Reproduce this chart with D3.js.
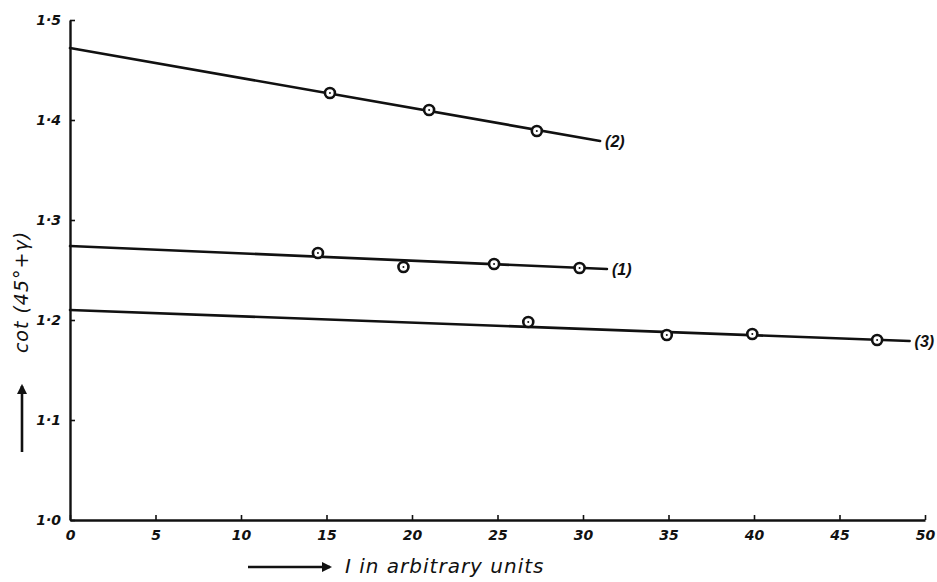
<!DOCTYPE html>
<html>
<head>
<meta charset="utf-8">
<script src="https://cdn.jsdelivr.net/npm/d3@7"></script>
<style>
  body { margin: 0; background: #fff; }
  svg { display: block; }
  text { fill: #111; }
</style>
</head>
<body>
<div id="chart"></div>
<script>
// axis ticks
const xTicks = [0, 5, 10, 15, 20, 25, 30, 35, 40, 45, 50];
const yTicks = [1.0, 1.1, 1.2, 1.3, 1.4, 1.5];

// curve (1)
const fit1X = [0, 31.4];
const fit1Y = [1.274, 1.251];
const pts1X = [14.5, 19.5, 24.8, 29.8];
const pts1Y = [1.267, 1.253, 1.256, 1.252];

// curve (2)
const fit2X = [0, 31.0];
const fit2Y = [1.472, 1.379];
const pts2X = [15.2, 21.0, 27.3];
const pts2Y = [1.427, 1.410, 1.389];

// curve (3)
const fit3X = [0, 49.1];
const fit3Y = [1.210, 1.179];
const pts3X = [26.8, 34.9, 39.9, 47.2];
const pts3Y = [1.198, 1.185, 1.186, 1.180];

const curveNames = ["(1)", "(2)", "(3)"];

document.addEventListener('DOMContentLoaded', function () {
    const width = 937;
    const height = 582;
    const marginLeft = 70;
    const marginRight = 12;
    const marginTop = 20;
    const marginBottom = 62;

    const x = d3.scaleLinear()
        .domain([0, 50])
        .range([marginLeft, width - marginRight]);
    const y = d3.scaleLinear()
        .domain([1.0, 1.5])
        .range([height - marginBottom, marginTop]);

    const svg = d3.create("svg")
        .attr("viewBox", [0, 0, width, height])
        .attr("width", width)
        .attr("height", height);

    const ink = "#111";
    const tickFont = "italic bold 14px 'DejaVu Sans', sans-serif";

    // x axis
    svg.append("g")
        .attr("transform", `translate(0,${y(1.0)})`)
        .call(d3.axisBottom(x).tickValues(xTicks).tickSizeInner(-5).tickSizeOuter(0).tickPadding(10).tickFormat(d3.format("d")))
        .call(g => g.select(".domain").attr("stroke", ink).attr("stroke-width", 2.6))
        .call(g => g.selectAll(".tick line").attr("stroke", ink).attr("stroke-width", 1.6))
        .call(g => g.selectAll(".tick text").style("font", tickFont).attr("fill", ink));

    // y axis
    svg.append("g")
        .attr("transform", `translate(${x(0)},0)`)
        .call(d3.axisLeft(y).tickValues(yTicks).tickSizeInner(-5).tickSizeOuter(0).tickPadding(9)
            .tickFormat(d => d3.format(".1f")(d).replace(".", "·")))
        .call(g => g.select(".domain").attr("stroke", ink).attr("stroke-width", 2.4))
        .call(g => g.selectAll(".tick line").attr("stroke", ink).attr("stroke-width", 1.6))
        .call(g => g.selectAll(".tick text").style("font", tickFont).attr("fill", ink));

    const curves = [
        { name: curveNames[0], fx: fit1X, fy: fit1Y, px: pts1X, py: pts1Y },
        { name: curveNames[1], fx: fit2X, fy: fit2Y, px: pts2X, py: pts2Y },
        { name: curveNames[2], fx: fit3X, fy: fit3Y, px: pts3X, py: pts3Y }
    ];

    const line = d3.line().x(d => x(d[0])).y(d => y(d[1]));

    curves.forEach(c => {
        const fit = c.fx.map((v, i) => [v, c.fy[i]]);
        svg.append("path")
            .datum(fit)
            .attr("d", line)
            .attr("fill", "none")
            .attr("stroke", ink)
            .attr("stroke-width", 2.6)
            .attr("stroke-linecap", "round");

        const pts = c.px.map((v, i) => [v, c.py[i]]);
        const g = svg.append("g");
        g.selectAll("circle.pt")
            .data(pts)
            .join("circle")
            .attr("class", "pt")
            .attr("cx", d => x(d[0]))
            .attr("cy", d => y(d[1]))
            .attr("r", 5)
            .attr("fill", "#fff")
            .attr("stroke", ink)
            .attr("stroke-width", 2.6);
        g.selectAll("circle.dot")
            .data(pts)
            .join("circle")
            .attr("class", "dot")
            .attr("cx", d => x(d[0]))
            .attr("cy", d => y(d[1]))
            .attr("r", 1)
            .attr("fill", ink);

        const end = fit[fit.length - 1];
        svg.append("text")
            .attr("x", x(end[0]) + 5)
            .attr("y", y(end[1]) + 6)
            .style("font", "italic bold 16px 'Liberation Sans', sans-serif")
            .text(c.name);
    });

    // axis titles with arrows
    svg.append("defs").append("marker")
        .attr("id", "head")
        .attr("viewBox", "0 0 10 10")
        .attr("refX", 8).attr("refY", 5)
        .attr("markerWidth", 4).attr("markerHeight", 4)
        .attr("orient", "auto")
        .append("path")
        .attr("d", "M0,0 L10,5 L0,10 Z")
        .attr("fill", ink);

    svg.append("line")
        .attr("x1", 248).attr("x2", 330)
        .attr("y1", 567).attr("y2", 567)
        .attr("stroke", ink).attr("stroke-width", 2.6)
        .attr("marker-end", "url(#head)");
    svg.append("text")
        .attr("x", 345)
        .attr("y", 573)
        .style("font", "italic 20px 'DejaVu Sans', sans-serif")
        .style("letter-spacing", "1px")
        .text("I  in  arbitrary  units");

    svg.append("line")
        .attr("x1", 22).attr("x2", 22)
        .attr("y1", 452).attr("y2", 386)
        .attr("stroke", ink).attr("stroke-width", 2.6)
        .attr("marker-end", "url(#head)");
    svg.append("text")
        .attr("transform", "translate(28,292) rotate(-90)")
        .attr("text-anchor", "middle")
        .style("font", "italic 19px 'DejaVu Sans', sans-serif")
        .style("letter-spacing", "1px")
        .text("cot (45°+γ)");

    document.getElementById("chart").appendChild(svg.node());
});
</script>
</body>
</html>
